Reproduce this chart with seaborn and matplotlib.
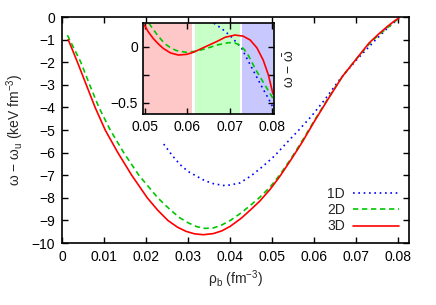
import numpy as np
import pandas as pd
import matplotlib
matplotlib.use("Agg")
import matplotlib.pyplot as plt
import matplotlib.ticker as mticker
import seaborn as sns

# ── main panel data (rho_b in fm^-3, omega - omega_u in keV fm^-3) ──
x_1d = [0.0242, 0.0262, 0.0281, 0.0300, 0.0321, 0.0340, 0.0360, 0.0384,
        0.0400, 0.0423, 0.0450, 0.0478, 0.0505, 0.0534, 0.0563, 0.0593,
        0.0625, 0.0660, 0.0700, 0.0746, 0.0775, 0.0797, 0.0805]
y_1d = [-5.62, -6.12, -6.53, -6.83, -7.05, -7.24, -7.37, -7.45,
        -7.43, -7.34, -7.02, -6.60, -6.15, -5.57, -5.00, -4.39,
        -3.65, -2.77, -1.90, -1.00, -0.47, -0.12, -0.02]

x_2d = [0.0013, 0.0025, 0.0045, 0.0066, 0.0088, 0.0115, 0.0147, 0.0183,
        0.0228, 0.0256, 0.0280, 0.0300, 0.0320, 0.0340, 0.0360, 0.0380,
        0.0400, 0.0427, 0.0450, 0.0470, 0.0495, 0.0518, 0.0545, 0.0572,
        0.0600, 0.0632, 0.0667, 0.0700, 0.0730, 0.0750, 0.0774, 0.0790,
        0.0801]
y_2d = [-0.80, -1.25, -2.0, -3.0, -4.0, -5.0, -6.0, -7.0,
        -8.0, -8.50, -8.88, -9.10, -9.27, -9.35, -9.33, -9.20,
        -9.00, -8.65, -8.30, -7.98, -7.52, -6.98, -6.25, -5.45,
        -4.58, -3.62, -2.62, -1.85, -1.20, -0.84, -0.47, -0.22,
        -0.06]

x_3d = [0.0015, 0.0025, 0.0037, 0.0058, 0.0079, 0.0103, 0.0133, 0.0166,
        0.0203, 0.0228, 0.0252, 0.0275, 0.0295, 0.0315, 0.0336, 0.0360,
        0.0380, 0.0400, 0.0427, 0.0450, 0.0470, 0.0495, 0.0518, 0.0545,
        0.0572, 0.0600, 0.0632, 0.0667, 0.0700, 0.0730, 0.0750, 0.0774,
        0.0790, 0.0801]
y_3d = [-1.0, -1.45, -2.0, -3.0, -4.0, -5.0, -6.0, -7.0,
        -8.0, -8.55, -9.0, -9.30, -9.48, -9.59, -9.63, -9.58,
        -9.46, -9.26, -8.89, -8.50, -8.15, -7.62, -7.05, -6.30,
        -5.51, -4.62, -3.65, -2.62, -1.85, -1.15, -0.80, -0.41,
        -0.18, -0.04]

# ── inset data (omega - omega_bar) ──
xi_1d = [0.0663, 0.0682, 0.0701, 0.0715, 0.0729, 0.0742, 0.0756, 0.0768,
         0.0780, 0.0792, 0.0803]
yi_1d = [0.21, 0.16, 0.10, 0.045, -0.015, -0.11, -0.21, -0.295,
         -0.38, -0.46, -0.54]

xi_2d = [0.0509, 0.0520, 0.0530, 0.0540, 0.0551, 0.0563, 0.0575, 0.0598,
         0.0620, 0.0646, 0.0670, 0.0697, 0.0712, 0.0724, 0.0735, 0.0745,
         0.0763, 0.0783, 0.0803]
yi_2d = [0.21, 0.15, 0.10, 0.055, 0.015, -0.015, -0.035, -0.05,
         -0.04, -0.015, 0.015, 0.036, 0.035, 0.015, -0.025, -0.08,
         -0.21, -0.335, -0.46]

xi_3d = [0.0498, 0.0508, 0.0519, 0.0530, 0.0543, 0.0560, 0.0579, 0.0598,
         0.0614, 0.0640, 0.0669, 0.0690, 0.0713, 0.0732, 0.0749, 0.0765,
         0.0780, 0.0792, 0.0803]
yi_3d = [0.194, 0.13, 0.075, 0.03, -0.015, -0.055, -0.074, -0.068,
         -0.05, -0.005, 0.045, 0.085, 0.104, 0.095, 0.06, -0.01,
         -0.12, -0.25, -0.42]

# shaded phase regions in the inset
spans = [(0.0490, 0.0611, "#ffc8c8"),
         (0.0618, 0.0724, "#c8ffc8"),
         (0.0729, 0.0810, "#c8c8ff")]

labels = ["1D", "2D", "3D"]
colors = ["#0000ff", "#00c800", "#ff0000"]
styles = [(0, (1, 2.2)), (0, (3.2, 2.2)), "-"]

sns.set_theme(style="ticks")
plt.rcParams.update({
    "font.family": ["Liberation Sans", "DejaVu Sans"],
    "font.size": 10,
    "mathtext.fontset": "custom",
    "mathtext.rm": "Liberation Sans",
    "mathtext.it": "Liberation Sans",
    "axes.linewidth": 1.2,
    "xtick.direction": "in",
    "ytick.direction": "in",
    "xtick.top": True,
    "ytick.right": True,
    "xtick.color": "black",
    "ytick.color": "black",
    "axes.edgecolor": "black",
})

fig = plt.figure(figsize=(4.36, 3.05), dpi=100)
ax = fig.add_axes([0.142, 0.203, 0.796, 0.741])

main = [(x_1d, y_1d), (x_2d, y_2d), (x_3d, y_3d)]
for (xs, ys), lab, c, ls in zip(main, labels, colors, styles):
    sns.lineplot(x=xs, y=ys, ax=ax, color=c, linestyle=ls, lw=1.2,
                 sort=False, label=lab)

ax.set_xlim(0, 0.0825)
ax.set_ylim(-10, 0)
ax.xaxis.set_major_locator(mticker.MultipleLocator(0.01))
ax.yaxis.set_major_locator(mticker.MultipleLocator(1))
ax.xaxis.set_major_formatter(mticker.FuncFormatter(
    lambda v, _: "0" if abs(v) < 1e-9 else f"{v:.2f}"))
ax.tick_params(length=4, width=1.0, labelsize=10, pad=5)
ax.set_xlabel(r"ρ$_\mathrm{b}$ (fm$^{-3}$)", fontsize=10, labelpad=3)
ax.set_ylabel(r"ω − ω$_\mathrm{u}$ (keV fm$^{-3}$)", fontsize=10, labelpad=4)
ax.legend(loc="lower right", frameon=False, markerfirst=False,
          handlelength=3.3, handletextpad=0.6, labelspacing=0.15,
          borderaxespad=0.3, fontsize=10)

# inset
axi = fig.add_axes([0.329, 0.626, 0.299, 0.298])
for lo, hi, c in spans:
    axi.axvspan(lo, hi, color=c, lw=0, zorder=0)
inset = [(xi_1d, yi_1d), (xi_2d, yi_2d), (xi_3d, yi_3d)]
for (xs, ys), c, ls in zip(inset, colors, styles):
    sns.lineplot(x=xs, y=ys, ax=axi, color=c, linestyle=ls, lw=1.2,
                 sort=False, legend=False)
axi.set_xlim(0.0496, 0.0805)
axi.set_ylim(-0.6, 0.21)
axi.xaxis.set_major_locator(mticker.MultipleLocator(0.01))
axi.yaxis.set_major_locator(mticker.FixedLocator([0, -0.5]))
axi.yaxis.set_minor_locator(mticker.FixedLocator([-0.25]))
axi.xaxis.set_major_formatter(mticker.FormatStrFormatter("%.2f"))
axi.yaxis.set_major_formatter(mticker.FuncFormatter(
    lambda v, _: "0" if abs(v) < 1e-9 else f"{v:.1f}".replace("-", "\u2212")))
axi.tick_params(which="both", length=4, width=1.0, labelsize=10, pad=4)
axi.yaxis.set_label_position("right")
axi.set_ylabel(r"ω − $\bar{\mathrm{ω}}$", fontsize=10, labelpad=6)
axi.set_xlabel("")

fig.savefig("out.png", dpi=100)
